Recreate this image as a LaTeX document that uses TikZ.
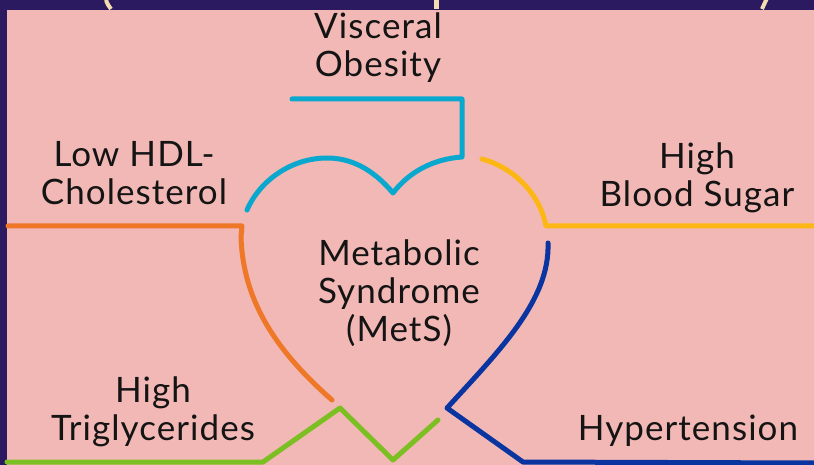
\documentclass[tikz,border=0pt]{standalone}
\usepackage{fontspec}
\setmainfont{Lato}[LetterSpace=3]
\definecolor{bgdark}{HTML}{2C1A60}
\definecolor{bgpink}{HTML}{F2B8B5}
\definecolor{ccyan}{HTML}{0AA8CE}
\definecolor{corange}{HTML}{EE7728}
\definecolor{cyellow}{HTML}{FDB715}
\definecolor{cblue}{HTML}{0A34A0}
\definecolor{cgreen}{HTML}{7CBF22}
\definecolor{ccream}{HTML}{F4DDB0}
\tikzset{
  stroke/.style={line width=5pt, line cap=round, line join=round},
  lbl/.style={font=\fontsize{35}{38}\selectfont, align=center, text=black!92, inner sep=0pt, anchor=base}
}
\begin{document}
\begin{tikzpicture}[x=1pt,y=-1pt]
\useasboundingbox (0,0) rectangle (814,465);
\fill[bgdark] (0,0) rectangle (814,465);
\fill[bgpink] (7,10) rectangle (814,465);
% cream fragments of cut-off title
\begin{scope}
\clip (0,0) rectangle (814,10);
\draw[ccream, line width=4pt] (106,-6) .. controls (106,2) .. (111,9);
\draw[ccream, line width=5pt] (436,-2) -- (436,9);
\draw[ccream, line width=4pt] (768,-4) -- (762,9);
\end{scope}
% labels (anchor = baseline of last line)
\node[lbl] (vo) at (378,77) {Visceral\\Obesity};
\node[lbl] (hdl) at (134,205) {Low HDL-\\Cholesterol};
\node[lbl] (bs) at (697,207) {High\\Blood Sugar};
\node[lbl] (mets) at (399,341) {Metabolic\\Syndrome\\(MetS)};
\node[lbl] (tg) at (153,440) {High\\Triglycerides};
\node[lbl] (ht) at (688,440) {Hypertension};
% connectors / heart
\coordinate (cyA) at (292,99);
\coordinate (orA) at (8,226);
\coordinate (yeA) at (814,226);
\coordinate (grA) at (7,462);
\coordinate (blA) at (814,463);
\draw[stroke, ccyan] (cyA) -- (462,99) -- (462,157)
  .. controls (432,159) and (408,173) .. (393,193)
  .. controls (372,168) and (350,158) .. (327,158)
  .. controls (292,158) and (260,180) .. (247,210);
\draw[stroke, cyellow] (482,159) .. controls (515,168) and (540,195) .. (546,226) -- (yeA);
\draw[stroke, corange] (orA) -- (242,226) -- (241,237)
  .. controls (243,300) and (275,350) .. (332,400);
\draw[stroke, cgreen] (grA) -- (263,462) -- (340,408) -- (393,460) -- (438,420);
\draw[stroke, cblue] (548,243) .. controls (550,300) and (500,350) .. (447,408)
  -- (523,462) -- (blA);
\end{tikzpicture}
\end{document}
